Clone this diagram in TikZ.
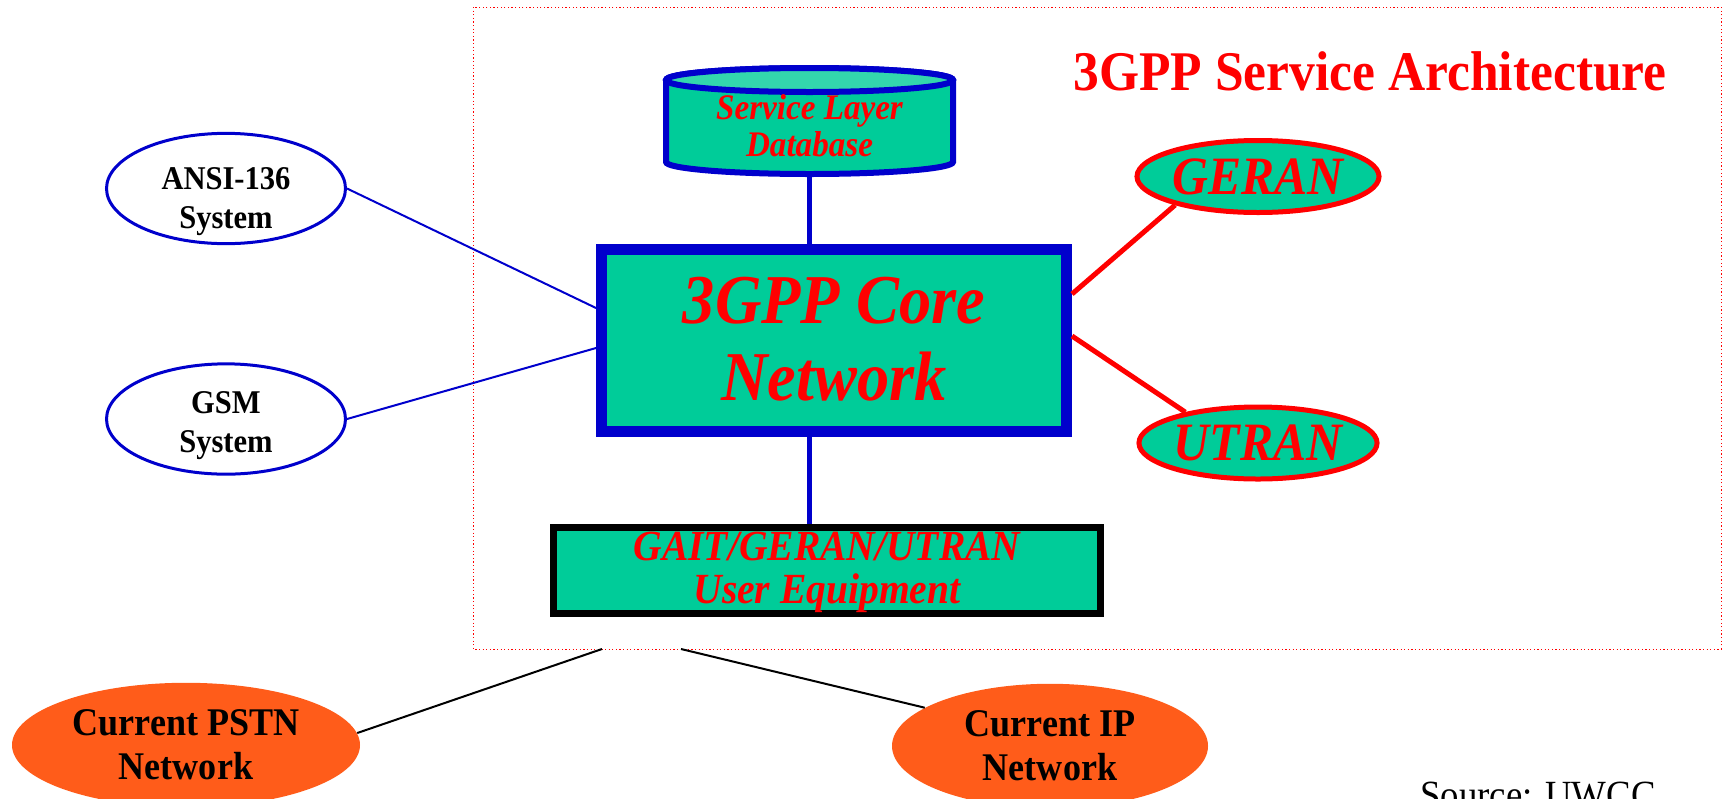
\documentclass[tikz,border=0pt]{standalone}
\usepackage{fontspec}
\setmainfont{Liberation Serif}[FakeStretch=0.92]
\usetikzlibrary{shapes.geometric}

\definecolor{netgreen}{RGB}{0,204,153}
\definecolor{toplite}{RGB}{51,214,173}
\definecolor{netblue}{RGB}{0,0,204}
\definecolor{netorange}{RGB}{255,92,26}

\newcommand{\twoline}[3]{\raisebox{-#1}[\height][\depth]{\begin{tabular}{@{}c@{}}#2\\#3\end{tabular}}}

\begin{document}
\begin{tikzpicture}[x=0.5pt,y=-0.5pt,
  frame/.style={draw=red,line width=0.5pt,dash pattern=on 0.6pt off 1.2pt},
  core/.style={rectangle,draw=netblue,line width=5.5pt,fill=netgreen,inner sep=0pt,text=red,
    font=\bfseries\itshape\fontsize{35}{38.5}\selectfont,minimum width=232.5pt,minimum height=91pt},
  equip/.style={rectangle,draw=black,line width=3.5pt,fill=netgreen,inner sep=0pt,text=red,
    font=\bfseries\itshape\fontsize{21.5}{21}\selectfont,minimum width=273.5pt,minimum height=43pt},
  radio/.style={ellipse,draw=red,line width=2.5pt,fill=netgreen,inner sep=0pt,text=red,
    font=\bfseries\itshape\fontsize{27}{29}\selectfont,minimum width=112.5pt,minimum height=36pt},
  legacy/.style={ellipse,draw=netblue,line width=1.5pt,fill=white,inner sep=0pt,
    font=\bfseries\fontsize{16.6}{19.5}\selectfont,minimum width=119.5pt,minimum height=47.5pt},
  current/.style={ellipse,fill=netorange,inner sep=0pt,font=\bfseries\fontsize{19.6}{22}\selectfont},
  trunk/.style={draw=netblue,line width=2.5pt},
  bluelink/.style={draw=netblue,line width=1pt},
  redlink/.style={draw=red,line width=2.5pt},
  blacklink/.style={draw=black,line width=1pt}]

  \useasboundingbox (0,0) rectangle (1722,798);

  \draw[frame] (473,7) rectangle (1721,649);
  \node[text=red,font=\bfseries\fontsize{28}{30}\selectfont,anchor=base] (title) at (1370,90) {3GPP Service Architecture};

  \draw[fill=netgreen,draw=netblue,line width=3pt] (666,80) -- (666,162)
    arc[start angle=180,end angle=360,x radius=71.75pt,y radius=6pt] -- (953,80)
    arc[start angle=0,end angle=180,x radius=71.75pt,y radius=6pt] -- cycle;
  \draw[fill=toplite,draw=netblue,line width=3pt] (809.5,80) ellipse[x radius=71.75pt,y radius=6pt];
  \node[inner sep=0pt,outer sep=0pt,minimum width=146.5pt,minimum height=56pt,text=red,
    font=\bfseries\itshape\fontsize{18}{18.5}\selectfont] (db) at (809.5,121)
    {\twoline{5pt}{Service Layer}{Database}};

  \node[core] (core) at (834,340.5) {\twoline{2.8pt}{3GPP Core}{Network}};
  \node[equip] (ue) at (827,570.5) {\twoline{1.5pt}{GAIT/GERAN/UTRAN}{User Equipment}};

  \node[radio] (geran) at (1258,176.5) {GERAN};
  \node[radio] (utran) at (1258,443) {UTRAN};

  \node[legacy] (ansi) at (226,188.5) {\twoline{6.3pt}{ANSI-136}{System}};
  \node[legacy] (gsm) at (226,419) {\twoline{3.3pt}{GSM}{System}};

  \node[current,minimum width=174pt,minimum height=57pt] (pstn) at (186,745) {\twoline{2pt}{Current PSTN}{Network}};
  \node[current,minimum width=158pt,minimum height=45pt] (ip) at (1050,746) {\twoline{1.6pt}{Current IP}{Network}};

  \node[font=\fontsize{20}{22}\selectfont,anchor=base] (source) at (1538,808) {Source: UWCC};

  \coordinate (pstnend) at (602,649);
  \coordinate (ipend) at (681,649);

  \draw[trunk] (db.south) -- (core.north -| db.south);
  \draw[trunk] (core.south -| db.south) -- (ue.north -| db.south);
  \draw[redlink] ([yshift=23.25pt]core.east) -- (geran.199);
  \draw[redlink] ([yshift=2.25pt]core.east) -- (utran.157);
  \draw[bluelink] (ansi.east) -- ([yshift=16.25pt]core.west);
  \draw[bluelink] (gsm.east) -- ([yshift=-3.75pt]core.west);
  \draw[blacklink] (pstn.4) -- (pstnend);
  \draw[blacklink] (ipend) -- (ip.163);
\end{tikzpicture}
\end{document}
